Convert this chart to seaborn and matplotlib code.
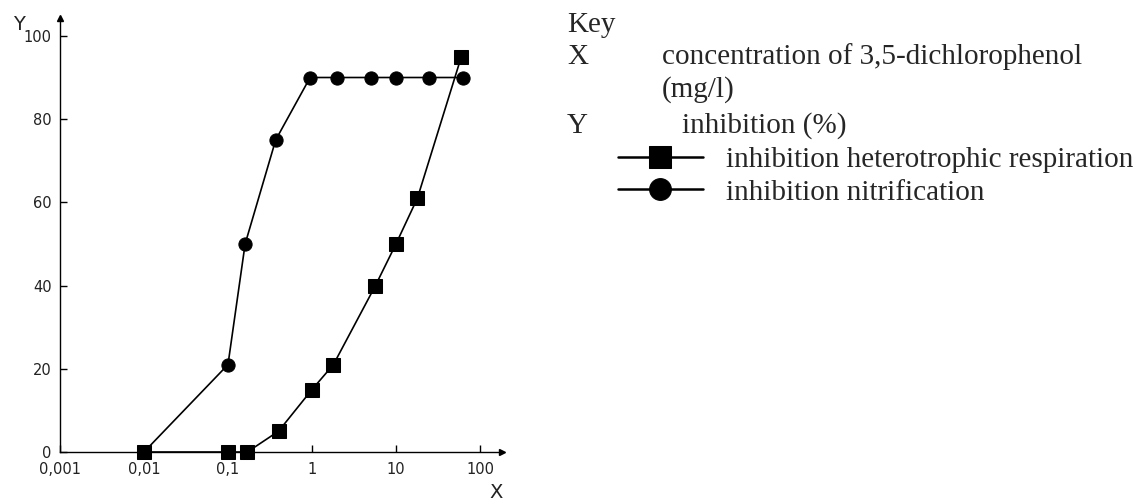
import matplotlib
matplotlib.use("Agg")
import matplotlib.pyplot as plt
import seaborn as sns
import pandas as pd

# data
conc_resp = [0.01, 0.1, 0.17, 0.4, 1.0, 1.8, 5.7, 10.0, 18.0, 60.0]
inh_resp = [0, 0, 0, 5, 15, 21, 40, 50, 61, 95]
conc_nitr = [0.01, 0.1, 0.16, 0.37, 0.95, 2.0, 5.0, 10.0, 25.0, 62.0]
inh_nitr = [0, 21, 50, 75, 90, 90, 90, 90, 90, 90]
label_resp = "inhibition heterotrophic respiration"
label_nitr = "inhibition nitrification"
x_ticks = [0.001, 0.01, 0.1, 1, 10, 100]
x_ticklabels = ["0,001", "0,01", "0,1", "1", "10", "100"]
y_ticks = [0, 20, 40, 60, 80, 100]

sns.set_theme(style="white")
plt.rcParams["font.family"] = ["DejaVu Sans"]

W, H = 1146, 500
fig = plt.figure(figsize=(W / 100, H / 100), dpi=100)
ax = fig.add_axes([60 / W, 48 / H, 442 / W, 434 / H])

df_n = pd.DataFrame({"x": conc_nitr, "y": inh_nitr})
df_r = pd.DataFrame({"x": conc_resp, "y": inh_resp})
sns.lineplot(data=df_n, x="x", y="y", ax=ax, color="black", lw=1.2,
             marker="o", markersize=9.5, markeredgecolor="black",
             label=label_nitr, clip_on=False, zorder=3)
sns.lineplot(data=df_r, x="x", y="y", ax=ax, color="black", lw=1.2,
             marker="s", markersize=9.5, markeredgecolor="black",
             label=label_resp, clip_on=False, zorder=4)

ax.set_xscale("log")
ax.set_xlim(0.001, 183)
ax.set_ylim(0, 104.3)
ax.set_xticks(x_ticks)
ax.set_xticklabels(x_ticklabels)
ax.minorticks_off()
ax.set_yticks(y_ticks)
ax.set_xlabel("")
ax.set_ylabel("")
for s in ["top", "right"]:
    ax.spines[s].set_visible(False)
for s in ["left", "bottom"]:
    ax.spines[s].set_color("black")
    ax.spines[s].set_linewidth(1.0)
ax.tick_params(axis="both", which="major", direction="in", length=5, width=1,
               colors="black", labelsize=10.5, labelcolor="#222222",
               bottom=True, left=True)
ax.tick_params(axis="x", pad=7)
ax.tick_params(axis="y", pad=6)
# axis arrows
ax.plot(1, 0, ">", color="black", markersize=4, transform=ax.transAxes, clip_on=False)
ax.plot(0, 1, "^", color="black", markersize=4, transform=ax.transAxes, clip_on=False)
fig.text(19 / W, 1 - 24 / H, "Y", fontsize=14, ha="center", va="center", color="#222222")
fig.text(496 / W, 1 - 492 / H, "X", fontsize=14, ha="center", va="center", color="#222222")

serif = {"family": "Liberation Serif", "size": 21}
fig.text(567 / W, 1 - 32 / H, "Key", ha="left", va="baseline", fontdict=serif)
fig.text(567 / W, 1 - 64 / H, "X", ha="left", va="baseline", fontdict=serif)
fig.text(662 / W, 1 - 64 / H, "concentration of 3,5-dichlorophenol", ha="left", va="baseline", fontdict=serif)
fig.text(662 / W, 1 - 97 / H, "(mg/l)", ha="left", va="baseline", fontdict=serif)
fig.text(567 / W, 1 - 133 / H, "Y", ha="left", va="baseline", fontdict=serif)
fig.text(682 / W, 1 - 133 / H, "inhibition (%)", ha="left", va="baseline", fontdict=serif)

handles, labels = ax.get_legend_handles_labels()
order = [labels.index(label_resp), labels.index(label_nitr)]
leg = ax.legend([handles[i] for i in order], [labels[i] for i in order],
                loc="upper left", bbox_to_anchor=(618 / W, 1 - 147 / H),
                bbox_transform=fig.transFigure, frameon=False,
                prop={"family": "Liberation Serif", "size": 21},
                handlelength=2.9, handletextpad=0.8, markerscale=1.65,
                borderpad=0, borderaxespad=0, labelspacing=0.2)
for ln in leg.get_lines():
    ln.set_linewidth(1.8)

fig.savefig("out.png", dpi=100)
